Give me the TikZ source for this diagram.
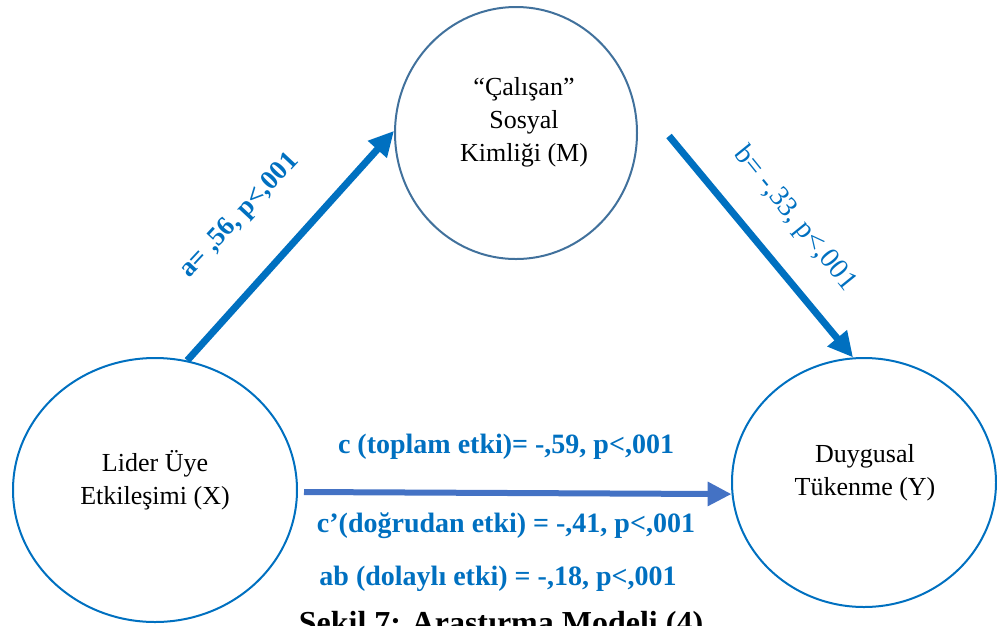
\documentclass[tikz,border=0pt]{standalone}
\usepackage{fontspec}
\setmainfont{Liberation Serif}
\usetikzlibrary{arrows.meta,shapes.geometric}
\definecolor{pathblue}{HTML}{0070C0}
\definecolor{directblue}{HTML}{4472C4}
\definecolor{medblue}{HTML}{41719C}
\tikzset{
  construct/.style={ellipse, draw=pathblue, line width=2pt, inner sep=0pt},
  nodetext/.style={align=center, text=black, font=\fontsize{26}{33}\selectfont},
  effect/.style={text=pathblue, anchor=base, font=\bfseries\fontsize{28}{33}\selectfont},
  patharrow/.style={draw=pathblue, line width=7pt, -{Triangle[length=25pt,width=24pt]}},
  directarrow/.style={draw=directblue, line width=6pt, -{Triangle[length=24pt,width=23pt]}},
}
\begin{document}
\begin{tikzpicture}[x=1pt,y=-1pt]
\useasboundingbox (0,0) rectangle (997,625);
\clip (0,0) rectangle (997,625);

% the three constructs
\node[construct, minimum width=284pt, minimum height=264pt] (X) at (155,490) {};
\node[construct, draw=medblue, minimum width=242pt, minimum height=252pt] (M) at (516,133) {};
\node[construct, minimum width=264pt, minimum height=249pt] (Y) at (864,482.5) {};

\node[nodetext] (Xtext) at (155,480) {Lider Üye\\Etkileşimi (X)};
\node[nodetext] (Mtext) at (524,122) {“Çalışan”\\Sosyal\\Kimliği (M)};
\node[nodetext] (Ytext) at (865,473) {Duygusal\\Tükenme (Y)};

% paths
\draw[patharrow] (X.76) -- (M.179);
\draw[patharrow] ([xshift=31pt,yshift=-3pt]M.east) -- (Y.95);
\draw[directarrow] ([xshift=6pt,yshift=-2pt]X.east) -- (Y.185);

% coefficients
\node[text=pathblue, rotate=47, font=\bfseries\fontsize{27}{30}\selectfont] (alab) at (240,216) {a= ,56, p<,001};
\node[text=pathblue, rotate=-51, font=\fontsize{28.5}{30}\selectfont] (blab) at (795,219) {b= -,33, p<,001};

\node[effect] (ctotal) at (506,453) {c (toplam etki)= -,59, p<,001};
\node[effect] (cdirect) at (506,532) {c’(doğrudan etki) = -,41, p<,001};
\node[effect] (cindirect) at (498,585) {ab (dolaylı etki) = -,18, p<,001};

% figure caption
\node[anchor=base, text=black, font=\bfseries\fontsize{32}{36}\selectfont] (caption) at (501,633) {Şekil 7: Araştırma Modeli (4)};
\end{tikzpicture}
\end{document}
